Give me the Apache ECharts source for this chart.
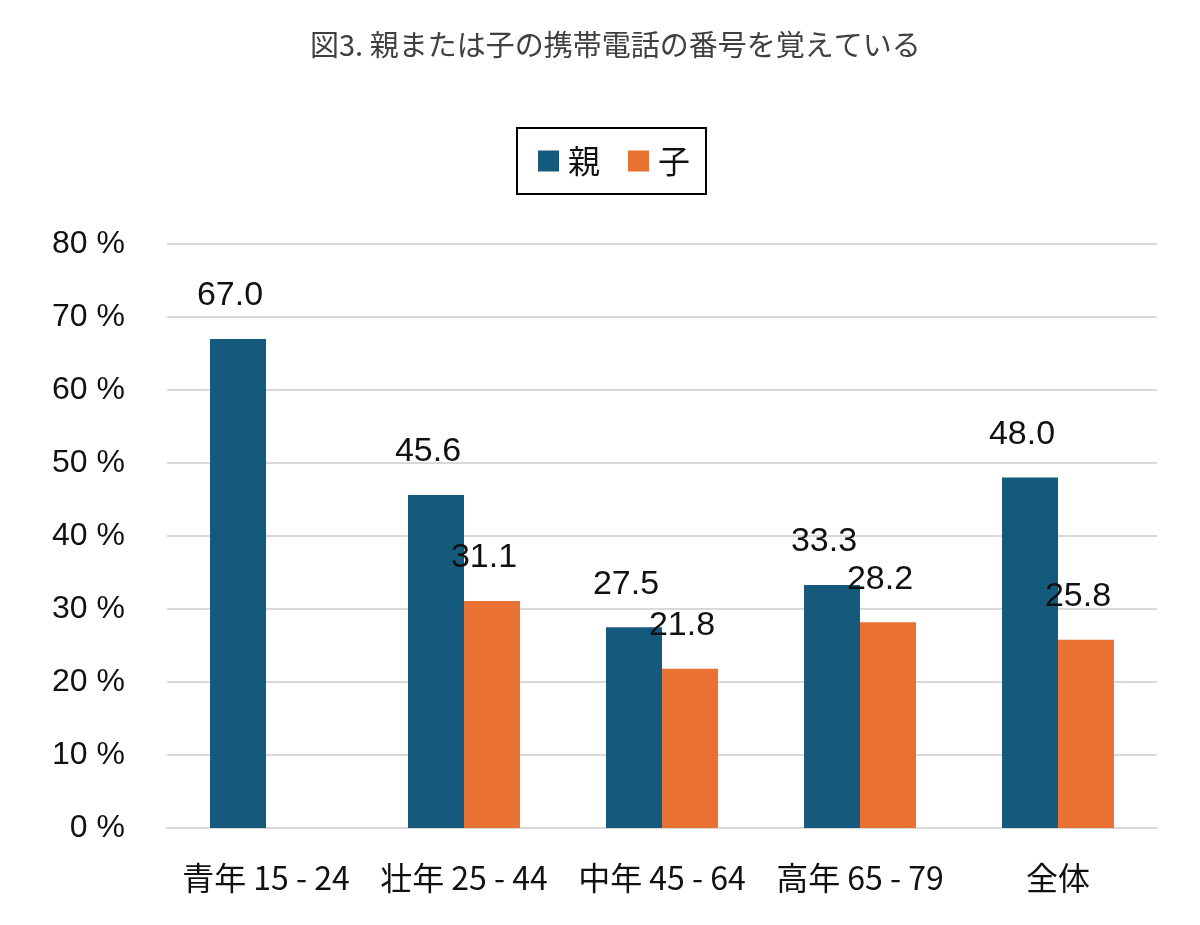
<!DOCTYPE html>
<html><head><meta charset="utf-8">
<script src="https://cdn.jsdelivr.net/npm/echarts@6/dist/echarts.min.js"></script>
<style>html,body{margin:0;padding:0;background:#fff}#c{width:1200px;height:925px}</style>
</head><body><div id="c"></div>
<script>
const categories = ['青年 15 - 24', '壮年 25 - 44', '中年 45 - 64', '高年 65 - 79', '全体'];
const parentValues = [67.0, 45.6, 27.5, 33.3, 48.0];
const childValues = [null, 31.1, 21.8, 28.2, 25.8];
const seriesNames = ['親', '子'];
const yTicks = { min: 0, max: 80, interval: 10 };

const jp = '"Noto Sans CJK JP", "Noto Sans", sans-serif';
const num = '"Liberation Sans", Arial, sans-serif';
const chart = echarts.init(document.getElementById('c'));
const lbl = {
  show: true, position: 'top', distance: 26, offset: [-8, 0],
  fontFamily: num, fontSize: 34, color: '#111',
  formatter: p => p.value == null ? '' : p.value.toFixed(1)
};
chart.setOption({
  backgroundColor: '#fff',
  animation: false,
  title: {
    text: '図3. 親または子の携帯電話の番号を覚えている',
    left: 305, top: 25,
    textStyle: { fontFamily: jp, fontSize: 29, fontWeight: 'normal', color: '#404040' }
  },
  legend: {
    data: seriesNames, top: 128, left: 517,
    borderColor: '#000', borderWidth: 2, padding: [17, 16, 17, 21],
    itemWidth: 21, itemHeight: 21, itemGap: 28, icon: 'rect',
    textStyle: { fontFamily: jp, fontSize: 32, color: '#111', padding: [0, 0, 0, 4] }
  },
  grid: { left: 167, right: 43, top: 244, bottom: 97, containLabel: false },
  xAxis: {
    type: 'category', data: categories,
    axisLine: { show: true, lineStyle: { color: '#d9d9d9', width: 2 } },
    axisTick: { show: false },
    axisLabel: { interval: 0, hideOverlap: false, fontFamily: jp, fontSize: 32, color: '#111', margin: 34 }
  },
  yAxis: {
    type: 'value', min: yTicks.min, max: yTicks.max, interval: yTicks.interval,
    axisLine: { show: false }, axisTick: { show: false },
    splitLine: { lineStyle: { color: '#d9d9d9', width: 2 } },
    axisLabel: { formatter: '{value} %', fontFamily: num, fontSize: 32, color: '#111', margin: 42 }
  },
  series: [
    { name: seriesNames[0], type: 'bar', data: parentValues, barWidth: 56, barGap: '0%',
      itemStyle: { color: '#155a7d' }, label: lbl },
    { name: seriesNames[1], type: 'bar', data: childValues, barWidth: 56, barGap: '0%',
      itemStyle: { color: '#e97132' }, label: lbl }
  ]
});
</script></body></html>
